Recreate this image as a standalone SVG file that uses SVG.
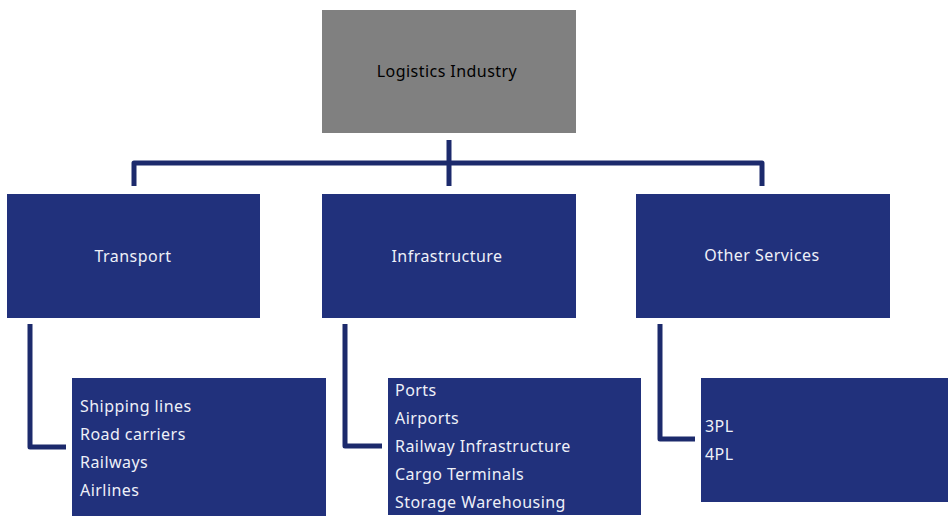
<svg xmlns="http://www.w3.org/2000/svg" width="948" height="516" viewBox="0 0 948 516">
<style>
.box{fill:#21317c;}
.top{fill:#808080;}
.lbl{font-family:"Noto Sans","Open Sans",sans-serif;font-size:16px;fill:#eef0f8;letter-spacing:0.45px;}
.c{text-anchor:middle;}
.dark{fill:#000;}
.conn{fill:none;stroke:#1c2a6c;stroke-width:5;stroke-linejoin:round;}
</style>
<rect width="948" height="516" fill="#fff"/>
<g id="connectors">
<path class="conn" d="M449 140 V186"/>
<path class="conn" d="M134 186 V163 H762 V186"/>
<path class="conn" d="M30 324 V447 H66"/>
<path class="conn" d="M345 324 V446 H382"/>
<path class="conn" d="M660 324 V439 H695"/>
</g>
<g id="logistics">
<rect class="top" x="322" y="10" width="254" height="123"/>
<text class="lbl c dark" x="447" y="77">Logistics Industry</text>
</g>
<g id="transport">
<rect class="box" x="7" y="194" width="253" height="124"/>
<text class="lbl c" x="133" y="262">Transport</text>
</g>
<g id="infrastructure">
<rect class="box" x="322" y="194" width="254" height="124"/>
<text class="lbl c" x="447" y="262">Infrastructure</text>
</g>
<g id="other">
<rect class="box" x="636" y="194" width="254" height="124"/>
<text class="lbl c" x="762" y="261">Other Services</text>
</g>
<g id="transport-list">
<rect class="box" x="72" y="378" width="254" height="138"/>
<text class="lbl" x="80" y="412">Shipping lines</text>
<text class="lbl" x="80" y="440">Road carriers</text>
<text class="lbl" x="80" y="468">Railways</text>
<text class="lbl" x="80" y="496">Airlines</text>
</g>
<g id="infrastructure-list">
<rect class="box" x="388" y="378" width="253" height="137"/>
<text class="lbl" x="395" y="396">Ports</text>
<text class="lbl" x="395" y="424">Airports</text>
<text class="lbl" x="395" y="452">Railway Infrastructure</text>
<text class="lbl" x="395" y="480">Cargo Terminals</text>
<text class="lbl" x="395" y="508">Storage Warehousing</text>
</g>
<g id="other-list">
<rect class="box" x="701" y="378" width="247" height="124"/>
<text class="lbl" x="705" y="432">3PL</text>
<text class="lbl" x="705" y="460">4PL</text>
</g>
</svg>
